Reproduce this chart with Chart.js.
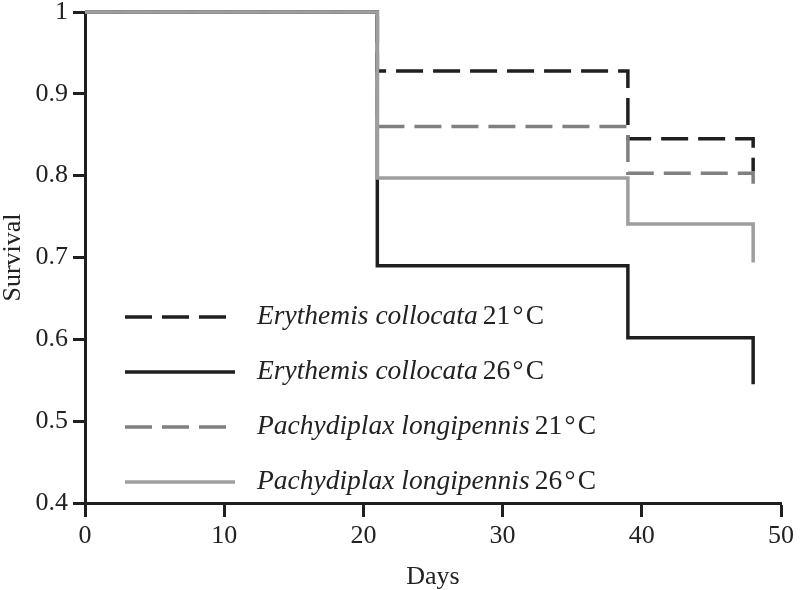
<!DOCTYPE html>
<html>
<head>
<meta charset="utf-8">
<script src="https://cdn.jsdelivr.net/npm/chart.js@4/dist/chart.umd.min.js"></script>
<style>
  html, body { margin: 0; padding: 0; background: #fff; }
  #wrap { width: 800px; height: 590px; }
</style>
</head>
<body>
<div id="wrap"><canvas id="c" width="800" height="590"></canvas></div>
<script>
// ---- data ----
const days = [0, 21, 39, 48];
const ecollocata21 = [1, 0.928, 0.845, 0.805];
const ecollocata26 = [1, 0.690, 0.602, 0.545];
const plongipennis21 = [1, 0.860, 0.803, 0.790];
const plongipennis26 = [1, 0.797, 0.741, 0.694];
const seriesSpecies = ['Erythemis collocata', 'Erythemis collocata', 'Pachydiplax longipennis', 'Pachydiplax longipennis'];
const seriesTemps = ['21\u200a°\u200aC', '26\u200a°\u200aC', '21\u200a°\u200aC', '26\u200a°\u200aC'];
const xTickLabels = ['0', '10', '20', '30', '40', '50'];
const yTickLabels = ['0.4', '0.5', '0.6', '0.7', '0.8', '0.9', '1'];

const pts = (ys) => days.map((d, i) => ({ x: d, y: ys[i] }));

const BLACK = '#1f1f1f';
const DGRAY = '#808080';
const LGRAY = '#9e9e9e';
const DASH = [27, 10];

const datasets = [
  { label: seriesSpecies[0] + ' ' + seriesTemps[0], data: pts(ecollocata21), borderColor: BLACK, borderWidth: 3.5, borderDash: DASH, order: 3 },
  { label: seriesSpecies[1] + ' ' + seriesTemps[1], data: pts(ecollocata26), borderColor: BLACK, borderWidth: 3.5, borderDash: [], order: 4 },
  { label: seriesSpecies[2] + ' ' + seriesTemps[2], data: pts(plongipennis21), borderColor: DGRAY, borderWidth: 3.5, borderDash: DASH, order: 2 },
  { label: seriesSpecies[3] + ' ' + seriesTemps[3], data: pts(plongipennis26), borderColor: LGRAY, borderWidth: 3.5, borderDash: [], order: 1 }
].map(d => Object.assign(d, { stepped: 'before', pointRadius: 0, fill: false, clip: false, borderCapStyle: 'butt', borderJoinStyle: 'miter' }));

const legendPlugin = {
  id: 'insideLegend',
  afterDraw(chart) {
    const ctx = chart.ctx;
    const rowY = [317, 372, 427, 482];
    const x0 = 125, x1 = 235, tx = 257;
    ctx.save();
    chart.data.datasets.forEach((ds, i) => {
      const y = rowY[i];
      ctx.strokeStyle = ds.borderColor;
      ctx.lineWidth = ds.borderWidth;
      ctx.setLineDash(ds.borderDash || []);
      ctx.lineCap = 'butt';
      ctx.beginPath();
      ctx.moveTo(x0, y);
      ctx.lineTo(x1, y);
      ctx.stroke();
      ctx.setLineDash([]);
      ctx.fillStyle = '#222';
      ctx.textBaseline = 'middle';
      ctx.textAlign = 'left';
      ctx.font = 'italic 27.5px "Liberation Serif", "Times New Roman", serif';
      ctx.fillText(seriesSpecies[i], tx, y);
      const w = ctx.measureText(seriesSpecies[i]).width;
      ctx.font = '27.5px "Liberation Serif", "Times New Roman", serif';
      ctx.fillText(seriesTemps[i], tx + w + 5, y);
    });
    ctx.restore();
  }
};

const tickFont = { family: '"Liberation Serif", "Times New Roman", serif', size: 26, lineHeight: 1 };
const yTickFont = { family: '"Liberation Serif", "Times New Roman", serif', size: 26, lineHeight: 0.4 };

new Chart(document.getElementById('c'), {
  type: 'line',
  data: { datasets },
  options: {
    responsive: false,
    animation: false,
    events: [],
    layout: { padding: { top: 12, right: 14, left: 0, bottom: 0 } },
    plugins: { legend: { display: false }, tooltip: { enabled: false } },
    scales: {
      x: {
        type: 'linear', min: 0, max: 50,
        afterFit: (s) => { s.height = 87; },
        ticks: { stepSize: 10, color: '#222', font: tickFont, padding: 6, maxRotation: 0,
          callback: (v) => xTickLabels[Math.round(v / 10)] },
        grid: { display: true, drawOnChartArea: false, drawTicks: true, tickLength: 14, tickWidth: 3, tickColor: BLACK },
        border: { display: true, width: 3, color: BLACK },
        title: { display: true, text: 'Days', color: '#222', font: tickFont, padding: { top: 0, bottom: 0 } }
      },
      y: {
        type: 'linear', min: 0.4, max: 1,
        afterFit: (s) => { s.width = 85; },
        ticks: { stepSize: 0.1, color: '#222', font: yTickFont, padding: 5,
          callback: (v) => yTickLabels[Math.round((v - 0.4) * 10)] },
        grid: { display: true, drawOnChartArea: false, drawTicks: true, tickLength: 12, tickWidth: 3, tickColor: BLACK },
        border: { display: true, width: 3, color: BLACK },
        title: { display: true, text: 'Survival', color: '#222', font: tickFont, padding: { top: 0, bottom: 0 } }
      }
    }
  },
  plugins: [legendPlugin]
});
</script>
</body>
</html>
